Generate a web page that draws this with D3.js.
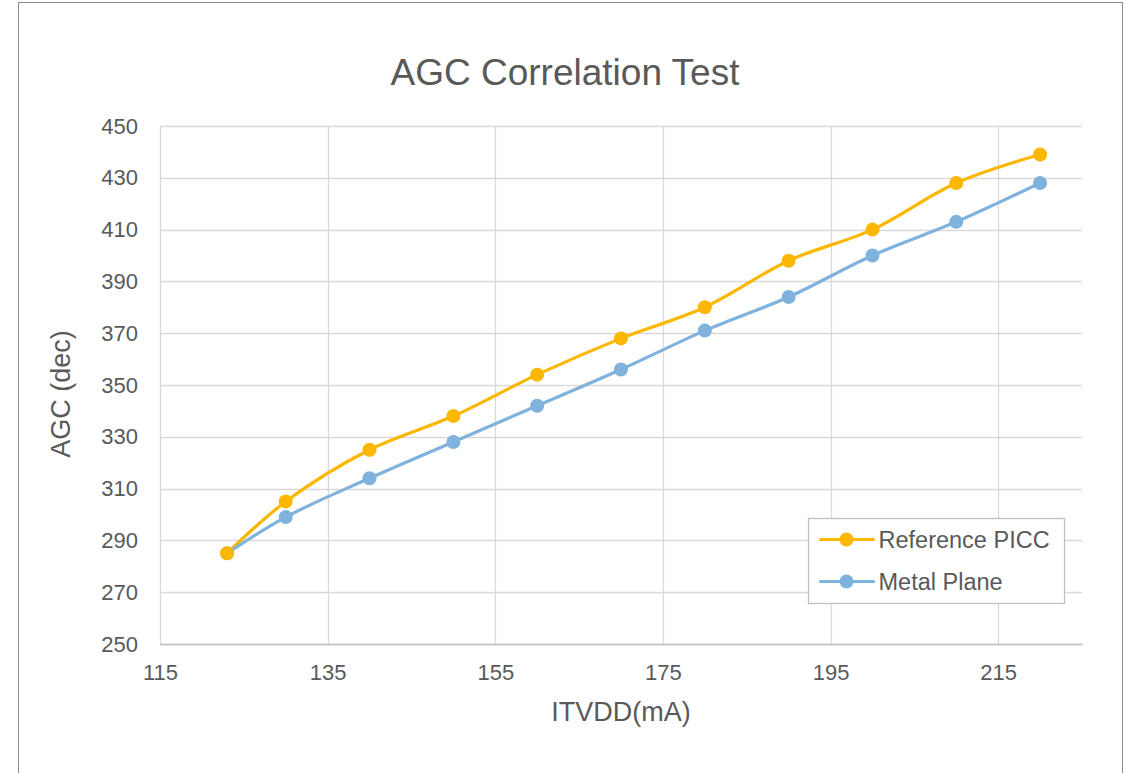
<!DOCTYPE html>
<html>
<head>
<meta charset="utf-8">
<script src="https://cdn.jsdelivr.net/npm/d3@7"></script>
<style>
  body { margin: 0; background: #fff; }
  text { font-family: "Liberation Sans", Arial, sans-serif; fill: #595959; }
</style>
</head>
<body>
<div id="chart"></div>
<script>
// values
let xValues = [123, 130, 140, 150, 160, 170, 180, 190, 200, 210, 220];
let referencePicc = [285, 305, 325, 338, 354, 368, 380, 398, 410, 428, 439];
let metalPlane = [285, 299, 314, 328, 342, 356, 371, 384, 400, 413, 428];
let xTicks = [115, 135, 155, 175, 195, 215];
let yTicks = [250, 270, 290, 310, 330, 350, 370, 390, 410, 430, 450];
let seriesNames = ["Reference PICC", "Metal Plane"];
let seriesColors = ["#FDB700", "#7FB2DD"];

let width = 1132, height = 773;
let margin = {top: 126, right: 50, bottom: 129, left: 160};

let svg = d3.select("#chart").append("svg")
            .attr("width", width)
            .attr("height", height);

// outer chart border
svg.append("rect")
   .attr("x", 18.5).attr("y", 2.5)
   .attr("width", 1104).attr("height", 790)
   .attr("fill", "none")
   .attr("stroke", "#8c8c8c")
   .attr("stroke-width", 1);

let xScale = d3.scaleLinear()
               .domain([115, 225])
               .range([margin.left, width - margin.right]);

let yScale = d3.scaleLinear()
               .domain([250, 450])
               .range([height - margin.bottom, margin.top]);

// gridlines
let grid = svg.append("g");
grid.selectAll(".hgrid")
    .data(yTicks)
    .enter().append("line")
    .attr("x1", xScale(115)).attr("x2", xScale(225))
    .attr("y1", d => Math.round(yScale(d)) + 0.5)
    .attr("y2", d => Math.round(yScale(d)) + 0.5)
    .attr("stroke", "#d9d9d9")
    .attr("stroke-width", 1.3);

grid.selectAll(".vgrid")
    .data(xTicks)
    .enter().append("line")
    .attr("y1", yScale(250)).attr("y2", yScale(450))
    .attr("x1", d => Math.round(xScale(d)) + 0.5)
    .attr("x2", d => Math.round(xScale(d)) + 0.5)
    .attr("stroke", "#d9d9d9")
    .attr("stroke-width", 1.3);

// axes
let xAxis = d3.axisBottom(xScale).tickValues(xTicks).tickSize(0).tickPadding(20);
let yAxis = d3.axisLeft(yScale).tickValues(yTicks).tickSize(0).tickPadding(22);

let gx = svg.append("g")
            .attr("transform", `translate(0,${yScale(250)})`)
            .call(xAxis);
let gy = svg.append("g")
            .attr("transform", `translate(${xScale(115)},0)`)
            .call(yAxis);

[gx, gy].forEach(function(g) {
    g.select(".domain").attr("stroke", "#bfbfbf").attr("stroke-width", 1.3);
    g.selectAll("text")
     .style("font-size", "22px")
     .style("font-family", "Liberation Sans, Arial, sans-serif")
     .attr("fill", "#595959");
});
gy.select(".domain").remove();

// titles
svg.append("text")
   .attr("x", 565).attr("y", 85)
   .attr("text-anchor", "middle")
   .style("font-size", "37px")
   .text("AGC Correlation Test");

svg.append("text")
   .attr("x", 621).attr("y", 721)
   .attr("text-anchor", "middle")
   .style("font-size", "27px")
   .text("ITVDD(mA)");

svg.append("text")
   .attr("transform", "translate(70,394) rotate(-90)")
   .attr("text-anchor", "middle")
   .style("font-size", "27px")
   .text("AGC (dec)");

// lines
let allSeries = [referencePicc, metalPlane];
let line = d3.line()
             .x((d, i) => xScale(xValues[i]))
             .y(d => yScale(d))
             .curve(d3.curveCatmullRom.alpha(0.5));

allSeries.forEach(function(values, s) {
    svg.append("path")
       .datum(values)
       .attr("d", line)
       .attr("fill", "none")
       .attr("stroke", seriesColors[s])
       .attr("stroke-width", 3.2)
       .attr("stroke-linejoin", "round")
       .attr("stroke-linecap", "round");
});

allSeries.slice().reverse().forEach(function(values, r) {
    let s = allSeries.length - 1 - r;
    svg.append("g").selectAll("circle")
       .data(values)
       .enter().append("circle")
       .attr("cx", (d, i) => xScale(xValues[i]))
       .attr("cy", d => yScale(d))
       .attr("r", 7)
       .attr("fill", seriesColors[s]);
});

// legend
let legend = svg.append("g").attr("transform", "translate(808.5,518.5)");
legend.append("rect")
      .attr("width", 256).attr("height", 85)
      .attr("fill", "#fff")
      .attr("stroke", "#bfbfbf")
      .attr("stroke-width", 1.3);

seriesNames.forEach(function(name, i) {
    let yy = 21 + i * 42;
    legend.append("line")
          .attr("x1", 12).attr("x2", 65)
          .attr("y1", yy).attr("y2", yy)
          .attr("stroke", seriesColors[i])
          .attr("stroke-width", 3.2)
          .attr("stroke-linecap", "round");
    legend.append("circle")
          .attr("cx", 38).attr("cy", yy)
          .attr("r", 7)
          .attr("fill", seriesColors[i]);
    legend.append("text")
          .attr("x", 70).attr("y", yy + 8)
          .style("font-size", "23.5px")
          .text(name);
});
</script>
</body>
</html>
